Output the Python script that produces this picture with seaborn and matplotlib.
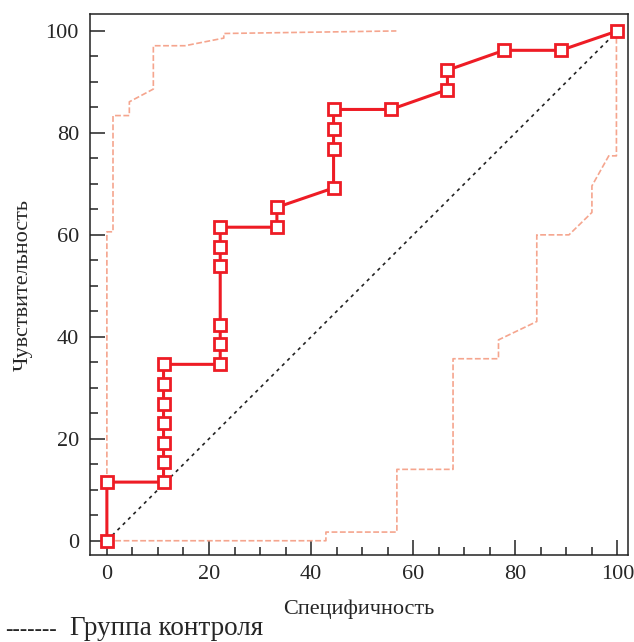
import numpy as np
import pandas as pd
import matplotlib
matplotlib.use("Agg")
import matplotlib.pyplot as plt
import seaborn as sns

# ROC curve (1 - specificity, sensitivity), %
roc_x = [0.0, 0.0, 11.1, 11.1, 11.1, 11.1, 11.1, 11.1, 11.1, 22.2, 22.2, 22.2, 22.2,
         22.2, 22.2, 33.3, 33.3, 44.4, 44.4, 44.4, 44.4, 55.6, 66.7, 66.7, 77.8, 88.9, 100.0]
roc_y = [0.0, 11.5, 11.5, 15.4, 19.2, 23.1, 26.9, 30.8, 34.6, 34.6, 38.5, 42.3, 53.8,
         57.7, 61.5, 61.5, 65.4, 69.2, 76.9, 80.8, 84.6, 84.6, 88.5, 92.3, 96.2, 96.2, 100.0]

# Upper confidence bound
upper_x = [0.0, 0.0, 1.2, 1.2, 4.4, 4.4, 9.1, 9.1, 15.3, 22.9, 22.9, 56.7]
upper_y = [0.0, 60.6, 60.6, 83.4, 83.4, 86.1, 88.6, 97.1, 97.1, 98.6, 99.5, 100.0]

# Lower confidence bound
lower_x = [0.0, 42.9, 42.9, 56.8, 56.8, 67.8, 67.8, 76.7, 76.7, 84.2, 84.2, 90.5,
           95.0, 95.0, 98.3, 99.8, 99.8]
lower_y = [0.0, 0.0, 1.7, 1.7, 14.0, 14.0, 35.7, 35.7, 39.4, 43.0, 60.0, 60.0,
           64.4, 69.6, 75.5, 75.5, 100.0]

diag = [0, 100]

x_ticks = [0, 20, 40, 60, 80, 100]
y_ticks = [0, 20, 40, 60, 80, 100]

sns.set_style("ticks")
plt.rcParams["font.family"] = ["Liberation Serif", "DejaVu Serif"]

fig = plt.figure(figsize=(6.34, 6.42), dpi=100)
ax = fig.add_axes([0.142, 0.1355, 0.848, 0.8425])

ci_color = "#f5a58e"
red = "#ee1c25"

sns.lineplot(x=upper_x, y=upper_y, sort=False, estimator=None, ax=ax,
             color=ci_color, lw=1.2, linestyle=(0, (3.5, 1.5)))
sns.lineplot(x=lower_x, y=lower_y, sort=False, estimator=None, ax=ax,
             color=ci_color, lw=1.2, linestyle=(0, (3.5, 1.5)))
sns.lineplot(x=diag, y=diag, sort=False, estimator=None, ax=ax,
             color="#222222", lw=1.2, linestyle=(0, (2, 2.5)))
sns.lineplot(x=roc_x, y=roc_y, sort=False, estimator=None, ax=ax,
             color=red, lw=2.2, marker="s", markersize=9,
             markerfacecolor="white", markeredgecolor=red, markeredgewidth=2.0,
             zorder=5)

ax.set_xlim(-3.3, 102.0)
ax.set_ylim(-2.8, 103.3)
ax.set_xticks(x_ticks)
ax.set_yticks(y_ticks)
ax.set_xticks(np.arange(0, 101, 5), minor=True)
ax.set_yticks(np.arange(0, 101, 5), minor=True)
ax.tick_params(axis="both", which="major", direction="in", length=11, width=1.1,
               labelsize=16, color="#222222")
ax.tick_params(axis="both", which="minor", direction="in", length=5.5, width=1.1,
               color="#222222")
ax.tick_params(axis="y", which="major", pad=8)
ax.tick_params(axis="x", which="major", pad=7)
for s in ax.spines.values():
    s.set_linewidth(1.1)
    s.set_color("#222222")

ax.set_xlabel("Специфичность", fontsize=16, labelpad=11)
ax.set_ylabel("Чувствительность", fontsize=16, labelpad=9)

fig.text(0.008, 0.011, "-------", fontsize=16, ha="left", va="baseline")
fig.text(0.110, 0.011, "Группа контроля", fontsize=19.5, ha="left", va="baseline")

fig.savefig("out.png", dpi=100)
